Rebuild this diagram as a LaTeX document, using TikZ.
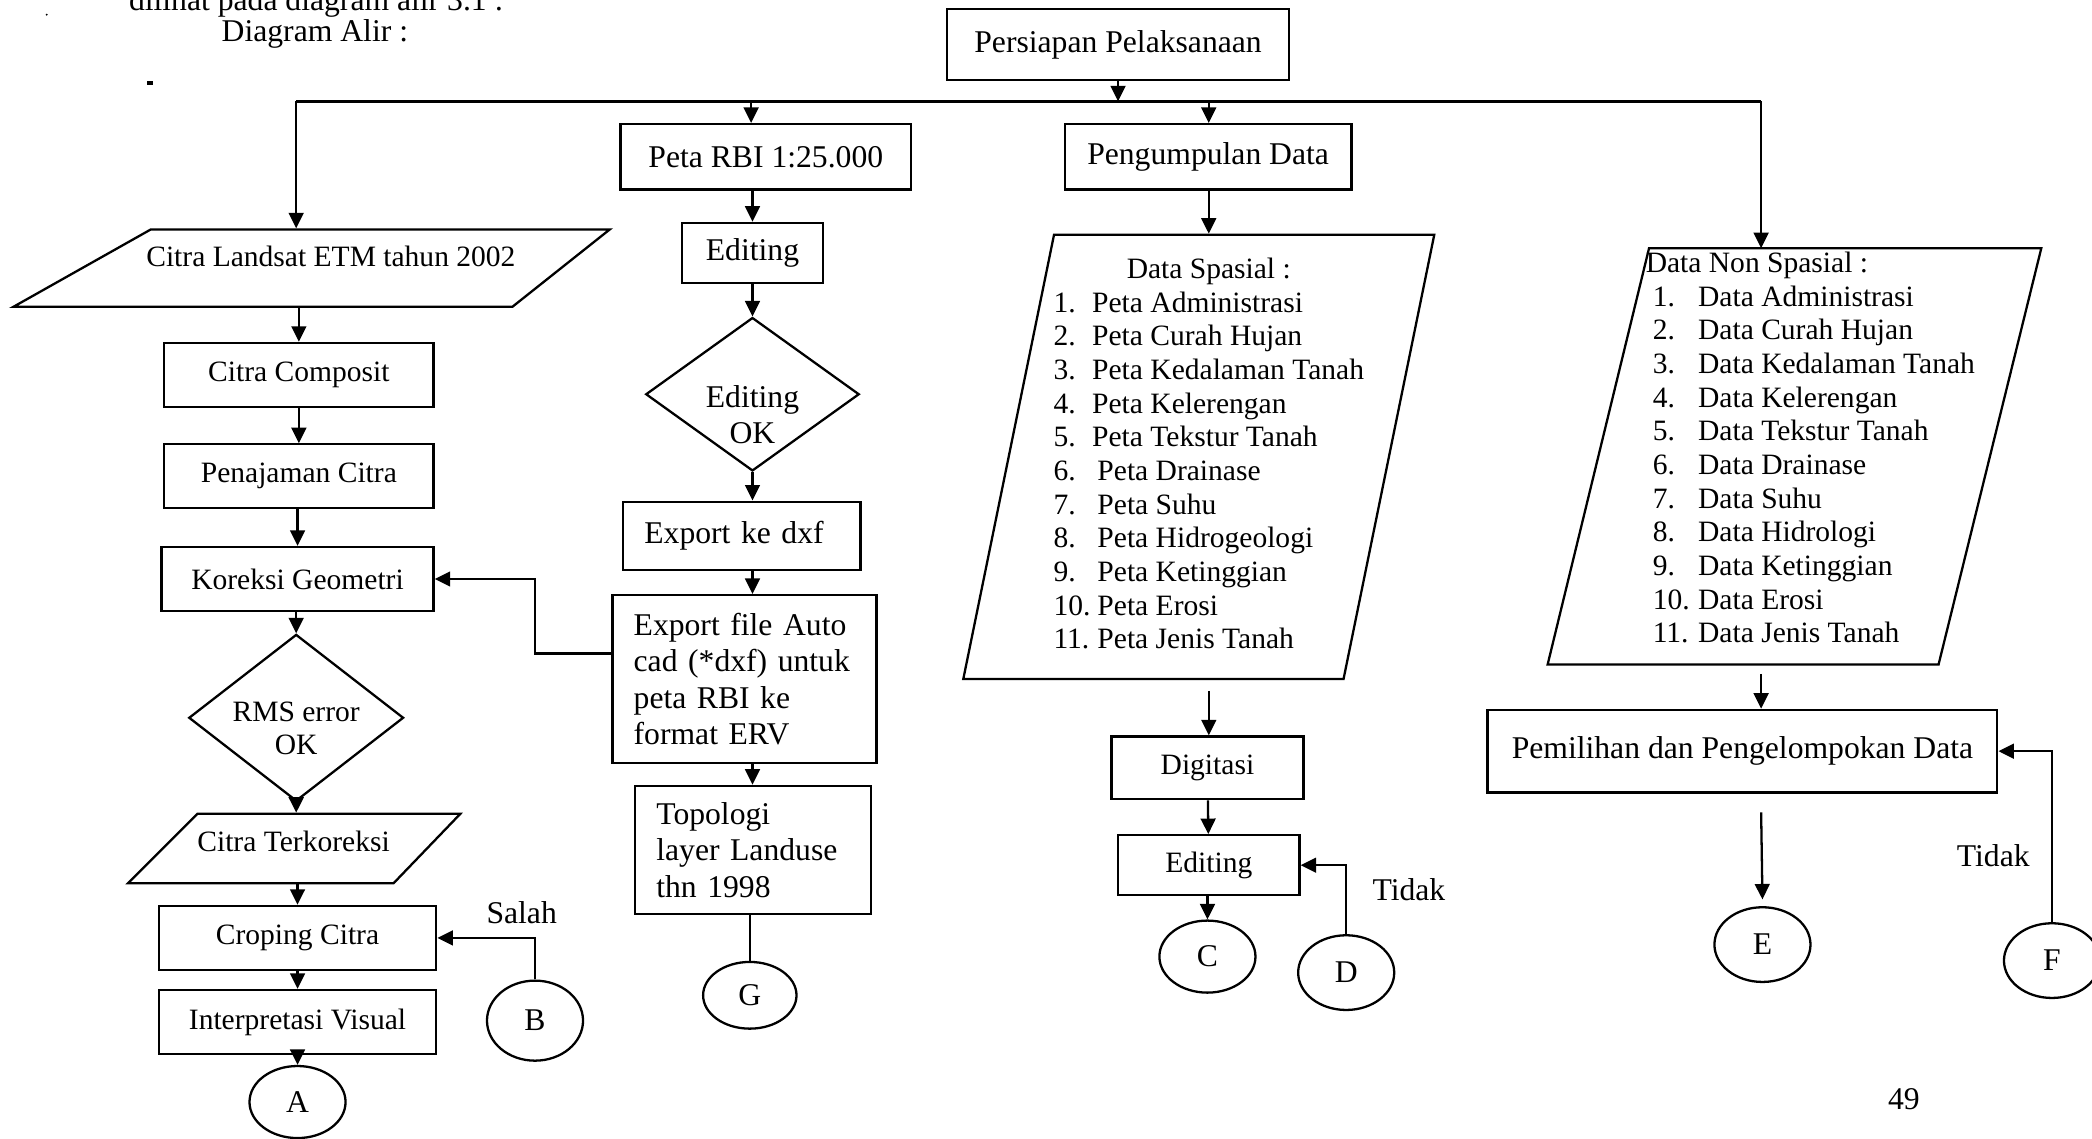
\documentclass[tikz,border=0pt]{standalone}
\usepackage{fontspec}
\setmainfont{Liberation Serif}
\usetikzlibrary{arrows.meta,shapes.geometric,calc}
\newcommand\bigtxt{\fontsize{9pt}{10.35pt}\selectfont}
\newcommand\smalltxt{\fontsize{8.4pt}{9.57pt}\selectfont}

\begin{document}
\begin{tikzpicture}[x=0.013342cm, y=-0.013342cm,
  line width=0.65pt,
  sz/.style 2 args={minimum width=#1*0.013342cm, minimum height=#2*0.013342cm},
  box/.style={draw, rectangle, inner sep=0pt, align=center, font=\bigtxt},
  sbox/.style={box, font=\smalltxt},
  io/.style={rectangle, inner sep=0pt, align=center, font=\smalltxt},
  decision/.style={draw, diamond, inner sep=0pt},
  conn/.style={draw, ellipse, inner sep=0pt, font=\bigtxt},
  lbl/.style={inner sep=0pt, font=\bigtxt},
  arr/.style={-{Triangle[length=4.4pt,width=4.2pt]}},
]
\useasboundingbox (0,0) rectangle (1568,853);
\clip (0,0) rectangle (1568,853);

% heading lines and specks
\node[lbl, anchor=base] (intro) at (237,8) {dilihat pada diagram alir 3.1 :};
\node[lbl, anchor=base] (title) at (236,31) {Diagram Alir :};
\fill (110,61) rectangle (115,63.5);
\fill (35,11) circle (0.8);

% top node and distribution line
\node[box, sz={256}{53}] (prep) at (838,33.5) {Persiapan Pelaksanaan};
\coordinate (busL) at (222,76);
\coordinate (busB) at (563,76);
\coordinate (busC) at (906,76);
\coordinate (busR) at (1320,76);

% ---------- column 1: satellite image ----------
\node[io, sz={272}{58}, text depth=7pt] (landsat) at (248,201) {Citra Landsat ETM tahun 2002};
\draw (113,172) -- (457,172) -- (384,230) -- (10,230) -- cycle;
\node[sbox, sz={202}{48}] (comp) at (224,281) {Citra Composit};
\node[sbox, sz={202}{48}] (sharp) at (224,357) {Penajaman Citra};
\node[sbox, sz={204}{48}] (geo) at (223,434) {Koreksi Geometri};
\node[decision, sz={161}{125}] (rms) at (222,538) {};
\node[lbl, font=\smalltxt, align=center] (rmstxt) at (222,546) {RMS error\\OK};
\node[io, sz={249}{52}, text depth=4pt] (terkor) at (220,636) {Citra Terkoreksi};
\draw (148,610) -- (345,610) -- (295,662) -- (96,662) -- cycle;
\node[sbox, sz={208}{48}] (crop) at (223,703) {Croping Citra};
\node[sbox, sz={208}{48}] (interp) at (223,766) {Interpretasi Visual};
\node[conn, sz={72}{54}] (A) at (223,826) {A};
\node[conn, sz={72}{60}] (B) at (401,765) {B};
\node[lbl] (salah) at (391,684) {Salah};

% ---------- column 2: RBI map ----------
\node[box, sz={218}{49}] (rbi) at (574,117.5) {Peta RBI 1:25.000};
\node[box, sz={106}{45}] (edit1) at (564,189.5) {Editing};
\node[decision, sz={160}{115}] (okedit) at (564,295.5) {};
\node[lbl, align=center] (okedittxt) at (564,311) {Editing\\OK};
\node[box, sz={178}{51}, text width=1.948cm, align=left] (dxf) at (556,401.5) {Export ke dxf};
\node[box, sz={198}{126}, text width=2.215cm, align=left] (autocad) at (558,509)
  {Export file Auto\\cad (*dxf) untuk\\peta RBI ke\\format ERV};
\node[box, sz={177}{96}, text width=1.935cm, align=left] (topo) at (564.5,637)
  {Topologi\\layer Landuse\\thn 1998};
\node[conn, sz={70}{50}] (G) at (562,746) {G};

% ---------- column 3: spatial data ----------
\node[box, sz={215}{49}] (collect) at (905.5,117.5) {Pengumpulan Data};
\node[io, sz={232}{333}] (spasial) at (906,342.5) {%
  \begin{tabular}{@{}p{11pt}@{}l@{}}
  \multicolumn{2}{c}{Data Spasial :}\\
  1. & Peta Administrasi\\
  2. & Peta Curah Hujan\\
  3. & Peta Kedalaman Tanah\\
  4. & Peta Kelerengan\\
  5. & Peta Tekstur Tanah\\
  6. & \hspace{1.5pt}Peta Drainase\\
  7. & \hspace{1.5pt}Peta Suhu\\
  8. & \hspace{1.5pt}Peta Hidrogeologi\\
  9. & \hspace{1.5pt}Peta Ketinggian\\
  10. & \hspace{1.5pt}Peta Erosi\\
  11. & \hspace{1.5pt}Peta Jenis Tanah
  \end{tabular}};
\draw (790,176) -- (1075,176) -- (1007,509) -- (722,509) -- cycle;
\node[sbox, sz={144}{47}] (digit) at (905,575.5) {Digitasi};
\node[sbox, sz={136}{45}] (edit2) at (906,648.5) {Editing};
\node[conn, sz={72}{54}] (C) at (905,717) {C};
\node[conn, sz={72}{56}] (D) at (1009,729) {D};
\node[lbl] (tidak1) at (1056,667) {Tidak};

% ---------- column 4: non-spatial data ----------
\node[io, sz={243}{312}] (nonspasial) at (1359.5,338) {%
  \begin{tabular}{@{}p{12.9pt}@{}l@{}}
  \multicolumn{2}{@{}l@{}}{\hspace{-2pt}Data Non Spasial :}\\
  1. & Data Administrasi\\
  2. & Data Curah Hujan\\
  3. & Data Kedalaman Tanah\\
  4. & Data Kelerengan\\
  5. & Data Tekstur Tanah\\
  6. & Data Drainase\\
  7. & Data Suhu\\
  8. & Data Hidrologi\\
  9. & Data Ketinggian\\
  10. & Data Erosi\\
  11. & Data Jenis Tanah
  \end{tabular}};
\draw (1236,186) -- (1530,186) -- (1453,498) -- (1160,498) -- cycle;
\coordinate (nsTop) at (1320,186);
\coordinate (nsBot) at (1320,505);
\node[box, sz={382}{62}] (select) at (1306,563) {Pemilihan dan Pengelompokan Data};
\node[conn, sz={72}{56}] (E) at (1321,708) {E};
\node[conn, sz={72}{56}] (F) at (1538,720) {F};
\node[lbl] (tidak2) at (1494,641) {Tidak};
\node[lbl] (page) at (1427,824) {49};

% ---------- connectors ----------
\draw[arr] (prep.south) -- (prep.south |- busL);
\draw (busL) -- (busR);
\draw[arr] (busL) -- (busL |- landsat.north);
\draw[arr] (busB) -- (busB |- rbi.north);
\draw[arr] (busC) -- (busC |- collect.north);
\draw[arr] (busR) -- (nsTop);

% column 1
\draw[arr] (landsat.south -| comp) -- (comp.north);
\draw[arr] (comp) -- (sharp);
\draw[arr] (sharp.south -| geo) -- (geo.north);
\draw[arr] (geo.south -| rms) -- (rms.north);
\draw[arr] (rms.south) -- (rms.south |- terkor.north);
\draw[arr] (terkor.south -| crop) -- (crop.north);
\draw[arr] (crop) -- (interp);
\draw[arr] (interp) -- (A);
\draw[arr] (B.north) |- (crop.east);
\coordinate (fb) at ($(autocad.north west)!0.35!(autocad.south west)$);
\draw[arr] (fb) -- (fb -| B) |- (geo.east);

% column 2
\draw[arr] (rbi.south -| edit1) -- (edit1.north);
\draw[arr] (edit1) -- (okedit);
\draw[arr] (okedit.south) -- (okedit.south |- dxf.north);
\draw[arr] (dxf.south -| okedit) -- (okedit |- autocad.north);
\draw[arr] (autocad.south -| okedit) -- (okedit |- topo.north);
\draw (topo.south -| G) -- (G);

% column 3
\draw[arr] (collect.south -| busC) -- (busC |- spasial.north);
\draw[arr] ($(spasial.south -| busC)+(0,8)$) -- (busC |- digit.north);
\draw[arr] (digit) -- (edit2);
\draw[arr] (edit2.south -| C) -- (C);
\draw[arr] (D.north) |- (edit2.east);

% column 4
\draw[arr] (nsBot) -- (nsBot |- select.north);
\draw[arr] ($(busR |- select.south)+(0,14)$) -- ($(E.north)+(0,-5)$);
\draw[arr] (F.north) |- (select.east);
\end{tikzpicture}
\end{document}
